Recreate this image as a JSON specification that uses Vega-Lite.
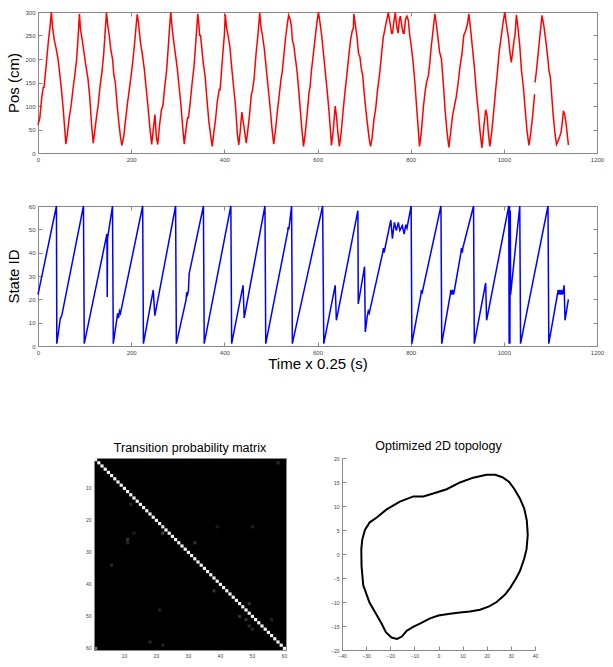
{
"$schema": "https://vega.github.io/schema/vega-lite/v6.json",
"padding": {"left": 5, "top": 8, "right": 5, "bottom": 5},
"background": "white",
"config": {
  "font": "Liberation Sans",
  "view": {"stroke": "#888", "strokeWidth": 1},
  "axis": {"labelFontSize": 6, "labelColor": "#444", "tickColor": "#888", "tickSize": -4, "labelPadding": 7, "domain": false, "grid": false, "titleFontWeight": "normal", "titleFontSize": 15, "titleColor": "black", "labelFlush": false, "labelOverlap": false},
  "title": {"fontSize": 12.5, "fontWeight": "normal", "offset": 4, "color": "black"}
},
"datasets": {
"pos": [
{"t":0,"p":60,"s":1},{"t":4,"p":75,"s":1},{"t":8,"p":118,"s":1},{"t":11,"p":139,"s":1},{"t":13,"p":140,"s":1},{"t":17,"p":180,"s":1},{"t":22,"p":235,"s":1},{"t":26,"p":270,"s":1},{"t":28.6,"p":300,"s":1},{"t":31,"p":270,"s":1},{"t":35,"p":240,"s":1},{"t":39,"p":222,"s":1},{"t":43,"p":200,"s":1},{"t":47,"p":165,"s":1},{"t":50,"p":138,"s":1},{"t":54,"p":95,"s":1},{"t":57.5,"p":50,"s":1},{"t":59.7,"p":19,"s":1},
{"t":63,"p":40,"s":1},{"t":67,"p":75,"s":1},{"t":71,"p":100,"s":1},{"t":75,"p":135,"s":1},{"t":79,"p":165,"s":1},{"t":83,"p":200,"s":1},{"t":86,"p":245,"s":1},{"t":89,"p":296,"s":1},{"t":91,"p":265,"s":1},{"t":95,"p":240,"s":1},{"t":99,"p":212,"s":1},{"t":103,"p":185,"s":1},{"t":107,"p":160,"s":1},{"t":111,"p":120,"s":1},{"t":115,"p":60,"s":1},{"t":118.6,"p":21,"s":1},
{"t":122,"p":48,"s":1},{"t":126,"p":80,"s":1},{"t":129,"p":100,"s":1},{"t":133,"p":140,"s":1},{"t":137,"p":170,"s":1},{"t":141,"p":210,"s":1},{"t":144,"p":255,"s":1},{"t":147,"p":299,"s":1},{"t":150,"p":270,"s":1},{"t":153,"p":250,"s":1},{"t":156,"p":222,"s":1},{"t":160,"p":200,"s":1},{"t":163,"p":165,"s":1},{"t":166,"p":150,"s":1},{"t":170,"p":100,"s":1},{"t":174,"p":60,"s":1},{"t":177,"p":35,"s":1},{"t":180,"p":16,"s":1},
{"t":184,"p":35,"s":1},{"t":188,"p":70,"s":1},{"t":192,"p":105,"s":1},{"t":196,"p":135,"s":1},{"t":200,"p":165,"s":1},{"t":204,"p":200,"s":1},{"t":208,"p":240,"s":1},{"t":211,"p":275,"s":1},{"t":213,"p":295,"s":1},{"t":216,"p":275,"s":1},{"t":220,"p":235,"s":1},{"t":224,"p":210,"s":1},{"t":228,"p":180,"s":1},{"t":232,"p":140,"s":1},{"t":236,"p":100,"s":1},{"t":240,"p":55,"s":1},{"t":244,"p":18,"s":1},{"t":247,"p":45,"s":1},{"t":251,"p":82,"s":1},{"t":254,"p":35,"s":1},{"t":257,"p":18,"s":1},
{"t":261,"p":60,"s":1},{"t":265,"p":92,"s":1},{"t":268,"p":100,"s":1},{"t":272,"p":140,"s":1},{"t":276,"p":175,"s":1},{"t":280,"p":230,"s":1},{"t":283,"p":275,"s":1},{"t":285,"p":300,"s":1},{"t":288,"p":265,"s":1},{"t":291,"p":240,"s":1},{"t":295,"p":210,"s":1},{"t":299,"p":180,"s":1},{"t":303,"p":140,"s":1},{"t":307,"p":100,"s":1},{"t":311,"p":50,"s":1},{"t":314,"p":19,"s":1},
{"t":318,"p":52,"s":1},{"t":321,"p":75,"s":1},{"t":323,"p":75,"s":1},{"t":327,"p":110,"s":1},{"t":331,"p":150,"s":1},{"t":335,"p":185,"s":1},{"t":339,"p":240,"s":1},{"t":343,"p":296,"s":1},{"t":345,"p":278,"s":1},{"t":347,"p":250,"s":1},{"t":349,"p":250,"s":1},{"t":352,"p":220,"s":1},{"t":355,"p":190,"s":1},{"t":359,"p":160,"s":1},{"t":363,"p":110,"s":1},{"t":367,"p":65,"s":1},{"t":371,"p":35,"s":1},{"t":374,"p":14,"s":1},
{"t":377,"p":40,"s":1},{"t":381,"p":70,"s":1},{"t":385,"p":110,"s":1},{"t":389,"p":135,"s":1},{"t":391,"p":135,"s":1},{"t":394,"p":175,"s":1},{"t":397,"p":215,"s":1},{"t":400,"p":250,"s":1},{"t":402,"p":295,"s":1},{"t":405,"p":265,"s":1},{"t":408,"p":250,"s":1},{"t":412,"p":225,"s":1},{"t":416,"p":180,"s":1},{"t":420,"p":140,"s":1},{"t":424,"p":100,"s":1},{"t":428,"p":40,"s":1},{"t":431,"p":17,"s":1},{"t":434,"p":45,"s":1},{"t":437.6,"p":87,"s":1},{"t":440,"p":70,"s":1},{"t":443,"p":50,"s":1},{"t":447,"p":21,"s":1},
{"t":450,"p":45,"s":1},{"t":454,"p":80,"s":1},{"t":458,"p":125,"s":1},{"t":460,"p":130,"s":1},{"t":464,"p":160,"s":1},{"t":468,"p":210,"s":1},{"t":472,"p":250,"s":1},{"t":476,"p":298,"s":1},{"t":479,"p":265,"s":1},{"t":482,"p":250,"s":1},{"t":486,"p":220,"s":1},{"t":490,"p":180,"s":1},{"t":494,"p":140,"s":1},{"t":498,"p":100,"s":1},{"t":502,"p":55,"s":1},{"t":506,"p":19,"s":1},
{"t":510,"p":50,"s":1},{"t":514,"p":90,"s":1},{"t":518,"p":125,"s":1},{"t":522,"p":160,"s":1},{"t":524,"p":170,"s":1},{"t":528,"p":210,"s":1},{"t":532,"p":250,"s":1},{"t":536,"p":280,"s":1},{"t":538,"p":293,"s":1},{"t":541,"p":285,"s":1},{"t":544,"p":270,"s":1},{"t":546,"p":240,"s":1},{"t":549,"p":230,"s":1},{"t":552,"p":205,"s":1},{"t":556,"p":175,"s":1},{"t":560,"p":130,"s":1},{"t":564,"p":80,"s":1},{"t":567,"p":45,"s":1},{"t":570,"p":14,"s":1},
{"t":574,"p":45,"s":1},{"t":578,"p":85,"s":1},{"t":582,"p":130,"s":1},{"t":584,"p":140,"s":1},{"t":587,"p":175,"s":1},{"t":591,"p":210,"s":1},{"t":595,"p":245,"s":1},{"t":599,"p":280,"s":1},{"t":602,"p":300,"s":1},{"t":605,"p":280,"s":1},{"t":609,"p":250,"s":1},{"t":613,"p":210,"s":1},{"t":617,"p":170,"s":1},{"t":621,"p":130,"s":1},{"t":625,"p":85,"s":1},{"t":628,"p":45,"s":1},{"t":630,"p":16,"s":1},{"t":634,"p":50,"s":1},{"t":638,"p":100,"s":1},{"t":641,"p":75,"s":1},{"t":644,"p":40,"s":1},{"t":647,"p":14,"s":1},
{"t":651,"p":45,"s":1},{"t":655,"p":90,"s":1},{"t":659,"p":130,"s":1},{"t":663,"p":165,"s":1},{"t":667,"p":205,"s":1},{"t":671,"p":240,"s":1},{"t":675,"p":262,"s":1},{"t":677,"p":265,"s":1},{"t":678,"p":296,"s":1},{"t":681,"p":275,"s":1},{"t":685,"p":245,"s":1},{"t":688,"p":212,"s":1},{"t":691,"p":205,"s":1},{"t":694,"p":180,"s":1},{"t":697,"p":165,"s":1},{"t":700,"p":130,"s":1},{"t":704,"p":90,"s":1},{"t":708,"p":55,"s":1},{"t":711,"p":30,"s":1},{"t":714,"p":14,"s":1},
{"t":717,"p":30,"s":1},{"t":721,"p":70,"s":1},{"t":725,"p":95,"s":1},{"t":729,"p":135,"s":1},{"t":733,"p":165,"s":1},{"t":737,"p":205,"s":1},{"t":741,"p":245,"s":1},{"t":745,"p":265,"s":1},{"t":749,"p":285,"s":1},{"t":752,"p":299,"s":1},{"t":756,"p":275,"s":1},{"t":759,"p":255,"s":1},{"t":761,"p":255,"s":1},{"t":764,"p":280,"s":1},{"t":767,"p":299,"s":1},{"t":770,"p":270,"s":1},{"t":773,"p":255,"s":1},{"t":776,"p":285,"s":1},{"t":778,"p":291,"s":1},{"t":781,"p":270,"s":1},{"t":784,"p":255,"s":1},{"t":786,"p":255,"s":1},{"t":789,"p":285,"s":1},{"t":792,"p":291,"s":1},{"t":795,"p":282,"s":1},{"t":798,"p":250,"s":1},{"t":801,"p":230,"s":1},{"t":805,"p":195,"s":1},{"t":809,"p":150,"s":1},{"t":813,"p":95,"s":1},{"t":816,"p":55,"s":1},{"t":819,"p":14,"s":1},
{"t":823,"p":45,"s":1},{"t":827,"p":95,"s":1},{"t":831,"p":130,"s":1},{"t":834,"p":150,"s":1},{"t":838,"p":165,"s":1},{"t":841,"p":190,"s":1},{"t":844,"p":225,"s":1},{"t":848,"p":260,"s":1},{"t":852,"p":296,"s":1},{"t":855,"p":275,"s":1},{"t":858,"p":250,"s":1},{"t":862,"p":215,"s":1},{"t":866,"p":200,"s":1},{"t":870,"p":150,"s":1},{"t":874,"p":90,"s":1},{"t":878,"p":45,"s":1},{"t":882,"p":12,"s":1},
{"t":886,"p":45,"s":1},{"t":890,"p":80,"s":1},{"t":894,"p":100,"s":1},{"t":898,"p":120,"s":1},{"t":902,"p":150,"s":1},{"t":906,"p":185,"s":1},{"t":910,"p":210,"s":1},{"t":914,"p":250,"s":1},{"t":918,"p":260,"s":1},{"t":922,"p":275,"s":1},{"t":925,"p":296,"s":1},{"t":929,"p":260,"s":1},{"t":933,"p":220,"s":1},{"t":937,"p":180,"s":1},{"t":941,"p":130,"s":1},{"t":945,"p":90,"s":1},{"t":949,"p":45,"s":1},{"t":953,"p":11,"s":1},{"t":957,"p":55,"s":1},{"t":961,"p":92,"s":1},{"t":964,"p":80,"s":1},{"t":967,"p":40,"s":1},{"t":970,"p":14,"s":1},
{"t":974,"p":45,"s":1},{"t":978,"p":85,"s":1},{"t":982,"p":130,"s":1},{"t":986,"p":170,"s":1},{"t":990,"p":215,"s":1},{"t":994,"p":245,"s":1},{"t":998,"p":275,"s":1},{"t":1002,"p":300,"s":1},{"t":1006,"p":270,"s":1},{"t":1010,"p":245,"s":1},{"t":1013,"p":215,"s":1},{"t":1016,"p":193,"s":1},{"t":1019,"p":215,"s":1},{"t":1022,"p":240,"s":1},{"t":1024,"p":250,"s":1},{"t":1027,"p":294,"s":1},{"t":1030,"p":270,"s":1},{"t":1034,"p":230,"s":1},{"t":1038,"p":175,"s":1},{"t":1042,"p":140,"s":1},{"t":1046,"p":90,"s":1},{"t":1050,"p":45,"s":1},{"t":1054,"p":16,"s":1},{"t":1058,"p":45,"s":1},{"t":1062,"p":80,"s":1},{"t":1066,"p":125,"s":1},
{"t":1067,"p":150,"s":2},{"t":1070,"p":175,"s":2},{"t":1074,"p":215,"s":2},{"t":1078,"p":255,"s":2},{"t":1082,"p":293,"s":2},{"t":1086,"p":270,"s":2},{"t":1090,"p":240,"s":2},{"t":1094,"p":205,"s":2},{"t":1097,"p":175,"s":2},{"t":1100,"p":160,"s":2},{"t":1103,"p":120,"s":2},{"t":1106,"p":80,"s":2},{"t":1110,"p":40,"s":2},{"t":1113,"p":18,"s":2},{"t":1116,"p":25,"s":2},{"t":1120,"p":35,"s":2},{"t":1123,"p":45,"s":2},{"t":1126,"p":70,"s":2},{"t":1128,"p":90,"s":2},{"t":1131,"p":80,"s":2},{"t":1134,"p":60,"s":2},{"t":1138.6,"p":17,"s":2}
],
"state": [
{"t":0,"v":22},{"t":39.6,"v":60},{"t":40.4,"v":1},{"t":44,"v":6},{"t":48,"v":12},{"t":50,"v":12.5},{"t":52,"v":14},{"t":97.6,"v":60},{"t":99.3,"v":1},{"t":148,"v":48},{"t":148.6,"v":21},{"t":149.3,"v":46},{"t":159.9,"v":60},{"t":161.6,"v":1},{"t":171,"v":14},{"t":173,"v":12},{"t":175,"v":15},{"t":177,"v":14},{"t":224.7,"v":60},{"t":226.3,"v":1},{"t":247.4,"v":24},{"t":250.8,"v":13},{"t":295.4,"v":60},{"t":297,"v":1},{"t":318,"v":20},{"t":319,"v":23},{"t":321,"v":22},{"t":323,"v":24},{"t":324.5,"v":31},{"t":355.1,"v":60},{"t":356.8,"v":1},{"t":414,"v":60},{"t":415.7,"v":1},{"t":440.2,"v":26},{"t":442.6,"v":12},{"t":487.2,"v":60},{"t":488.9,"v":1},{"t":536,"v":49},{"t":537,"v":51},{"t":538.5,"v":50},{"t":544.4,"v":60},{"t":546,"v":1},{"t":611,"v":60},{"t":613.5,"v":1},{"t":638,"v":26},{"t":640.5,"v":11},{"t":686.7,"v":58},{"t":687.5,"v":18},{"t":701,"v":34},{"t":702.6,"v":6},{"t":707,"v":13},{"t":709,"v":15},{"t":711,"v":14},{"t":740,"v":40},{"t":741.5,"v":42},{"t":743,"v":40},{"t":745,"v":42},{"t":757.4,"v":54},{"t":760.8,"v":46},{"t":765,"v":53},{"t":769.3,"v":49.5},{"t":773.5,"v":53},{"t":776.8,"v":49.5},{"t":782,"v":51.6},{"t":786,"v":48},{"t":789.5,"v":52},{"t":792,"v":50.5},{"t":801,"v":60},{"t":802.6,"v":1},{"t":822,"v":22},{"t":823,"v":24},{"t":825,"v":23},{"t":826,"v":24},{"t":865,"v":60},{"t":866.7,"v":1},{"t":885,"v":22},{"t":886,"v":24},{"t":888,"v":22},{"t":890,"v":24},{"t":892,"v":22},{"t":894,"v":24},{"t":908,"v":40},{"t":909,"v":42},{"t":911,"v":40},{"t":912,"v":42},{"t":935,"v":60},{"t":936.6,"v":1},{"t":961,"v":27},{"t":963,"v":11},{"t":1010.6,"v":60},{"t":1011.4,"v":1},{"t":1012.2,"v":60},{"t":1013,"v":1},{"t":1013.8,"v":58},{"t":1014.5,"v":22},{"t":1034.2,"v":60},{"t":1035.9,"v":1},{"t":1094.8,"v":60},{"t":1096.5,"v":1},{"t":1116.7,"v":24},{"t":1118,"v":22},{"t":1120,"v":24},{"t":1122,"v":22},{"t":1124,"v":24},{"t":1126,"v":22},{"t":1128,"v":24},{"t":1129.5,"v":26},{"t":1131.3,"v":11},{"t":1138.6,"v":20}
],
"tpm": [
{"c":1,"r":1,"v":0.95},{"c":2,"r":2,"v":0.95},{"c":3,"r":3,"v":0.95},{"c":4,"r":4,"v":0.95},{"c":5,"r":5,"v":0.95},{"c":6,"r":6,"v":0.95},{"c":7,"r":7,"v":0.95},{"c":8,"r":8,"v":0.95},{"c":9,"r":9,"v":0.95},{"c":10,"r":10,"v":0.95},{"c":11,"r":11,"v":0.95},{"c":12,"r":12,"v":0.95},{"c":13,"r":13,"v":0.95},{"c":14,"r":14,"v":0.95},{"c":15,"r":15,"v":0.95},{"c":16,"r":16,"v":0.95},{"c":17,"r":17,"v":0.95},{"c":18,"r":18,"v":0.95},{"c":19,"r":19,"v":0.95},{"c":20,"r":20,"v":0.95},{"c":21,"r":21,"v":0.95},{"c":22,"r":22,"v":0.9},{"c":23,"r":23,"v":0.95},{"c":24,"r":24,"v":0.95},{"c":25,"r":25,"v":0.95},{"c":26,"r":26,"v":0.95},{"c":27,"r":27,"v":0.95},{"c":28,"r":28,"v":0.95},{"c":29,"r":29,"v":0.95},{"c":30,"r":30,"v":0.95},{"c":31,"r":31,"v":0.95},{"c":32,"r":32,"v":0.95},{"c":33,"r":33,"v":0.95},{"c":34,"r":34,"v":0.95},{"c":35,"r":35,"v":0.95},{"c":36,"r":36,"v":0.95},{"c":37,"r":37,"v":0.95},{"c":38,"r":38,"v":0.95},{"c":39,"r":39,"v":0.95},{"c":40,"r":40,"v":0.95},{"c":41,"r":41,"v":0.95},{"c":42,"r":42,"v":0.95},{"c":43,"r":43,"v":0.95},{"c":44,"r":44,"v":0.95},{"c":45,"r":45,"v":0.95},{"c":46,"r":46,"v":0.95},{"c":47,"r":47,"v":0.95},{"c":48,"r":48,"v":0.95},{"c":49,"r":49,"v":0.95},{"c":50,"r":50,"v":0.95},{"c":51,"r":51,"v":0.95},{"c":52,"r":52,"v":0.95},{"c":53,"r":53,"v":0.95},{"c":54,"r":54,"v":0.95},{"c":55,"r":55,"v":0.95},{"c":56,"r":56,"v":0.95},{"c":57,"r":57,"v":0.95},{"c":58,"r":58,"v":0.95},{"c":59,"r":59,"v":0.95},{"c":60,"r":60,"v":0.95},
{"c":58,"r":2,"v":0.15},{"c":12,"r":15,"v":0.15},{"c":39,"r":22,"v":0.1},{"c":50,"r":22,"v":0.12},{"c":13,"r":24,"v":0.1},{"c":22,"r":24,"v":0.3},{"c":11,"r":26,"v":0.2},{"c":11,"r":27,"v":0.15},{"c":32,"r":27,"v":0.2},{"c":6,"r":34,"v":0.15},{"c":38,"r":42,"v":0.2},{"c":21,"r":48,"v":0.12},{"c":49,"r":46,"v":0.2},{"c":46,"r":50,"v":0.2},{"c":48,"r":51,"v":0.2},{"c":49,"r":53,"v":0.15},{"c":50,"r":54,"v":0.15},{"c":56,"r":51,"v":0.12},{"c":18,"r":58,"v":0.15},{"c":22,"r":59,"v":0.12},{"c":1,"r":60,"v":0.5}
],
"topo": [
{"o":1,"x":19.9,"y":16.5},{"o":2,"x":14.4,"y":15.9},{"o":3,"x":8.9,"y":14.9},{"o":4,"x":3.4,"y":13.5},{"o":5,"x":-2.2,"y":12.6},{"o":6,"x":-6.3,"y":12.0},{"o":7,"x":-10.4,"y":12.0},{"o":8,"x":-16,"y":10.9},{"o":9,"x":-21.5,"y":9.3},{"o":10,"x":-25.6,"y":7.6},{"o":11,"x":-28.5,"y":6.6},{"o":12,"x":-30.5,"y":5.0},{"o":13,"x":-31.6,"y":3.0},{"o":14,"x":-32,"y":1},{"o":15,"x":-31.9,"y":-2.5},{"o":16,"x":-31.2,"y":-6.5},{"o":17,"x":-28.6,"y":-10.1},{"o":18,"x":-25.5,"y":-12.8},{"o":19,"x":-23.5,"y":-14.6},{"o":20,"x":-21.8,"y":-16.3},{"o":21,"x":-19.5,"y":-17.4},{"o":22,"x":-17.2,"y":-17.7},{"o":23,"x":-15.2,"y":-17.2},{"o":24,"x":-13.2,"y":-16.0},{"o":25,"x":-10.5,"y":-15.2},{"o":26,"x":-7.7,"y":-14.5},{"o":27,"x":-3.5,"y":-13.4},{"o":28,"x":0,"y":-12.8},{"o":29,"x":4,"y":-12.5},{"o":30,"x":8.9,"y":-12.2},{"o":31,"x":13,"y":-12.0},{"o":32,"x":17.2,"y":-11.6},{"o":33,"x":21,"y":-10.9},{"o":34,"x":24.1,"y":-10.0},{"o":35,"x":27.5,"y":-8.5},{"o":36,"x":29.8,"y":-7.0},{"o":37,"x":32,"y":-5.2},{"o":38,"x":33.8,"y":-3.5},{"o":39,"x":35.5,"y":-1.0},{"o":40,"x":36.5,"y":1.0},{"o":41,"x":37.0,"y":4.0},{"o":42,"x":36.6,"y":7.0},{"o":43,"x":35.5,"y":9.5},{"o":44,"x":33.8,"y":11.5},{"o":45,"x":31.5,"y":13.5},{"o":46,"x":29.3,"y":15.0},{"o":47,"x":26.5,"y":16.0},{"o":48,"x":23.5,"y":16.5},{"o":49,"x":19.9,"y":16.5}
]
},
"spacing": 67,
"vconcat": [
 {"spacing": 39, "vconcat": [
  {"width": 559, "height": 141, "data": {"name": "pos"},
   "layer": [
    {"mark": {"type": "line", "color": "#ff0000", "strokeWidth": 1.5},
     "encoding": {
      "x": {"field": "t", "type": "quantitative", "scale": {"domain": [0, 1200], "nice": false}, "axis": {"values": [0,200,400,600,800,1000,1200], "format": "d", "title": null}},
      "y": {"field": "p", "type": "quantitative", "scale": {"domain": [0, 300], "nice": false}, "axis": {"values": [0,50,100,150,200,250,300], "title": "Pos (cm)", "minExtent": 14, "maxExtent": 14, "titlePadding": 3}},
      "detail": {"field": "s"}}},
    {"mark": {"type": "point", "opacity": 0},
     "encoding": {
      "x": {"field": "t", "type": "quantitative", "axis": {"orient": "top", "values": [0,200,400,600,800,1000,1200], "labels": false, "title": null}},
      "y": {"field": "p", "type": "quantitative", "axis": {"orient": "right", "values": [0,50,100,150,200,250,300], "labels": false, "title": null}}}}
   ],
   "resolve": {"axis": {"x": "independent", "y": "independent"}}},
  {"width": 559, "height": 140, "data": {"name": "state"},
   "layer": [
    {"mark": {"type": "line", "color": "#0000ff", "strokeWidth": 1.5},
     "encoding": {
      "x": {"field": "t", "type": "quantitative", "scale": {"domain": [0, 1200], "nice": false}, "axis": {"values": [0,200,400,600,800,1000,1200], "format": "d", "title": "Time x 0.25 (s)", "titlePadding": 1}},
      "y": {"field": "v", "type": "quantitative", "scale": {"domain": [0, 60], "nice": false}, "axis": {"values": [0,10,20,30,40,50,60], "title": "State ID", "minExtent": 14, "maxExtent": 14, "titlePadding": 3}}}},
    {"mark": {"type": "point", "opacity": 0},
     "encoding": {
      "x": {"field": "t", "type": "quantitative", "axis": {"orient": "top", "values": [0,200,400,600,800,1000,1200], "labels": false, "title": null}},
      "y": {"field": "v", "type": "quantitative", "axis": {"orient": "right", "values": [0,10,20,30,40,50,60], "labels": false, "title": null}}}}
   ],
   "resolve": {"axis": {"x": "independent", "y": "independent"}}}
 ]},
 {"spacing": 42, "hconcat": [
  {"width": 2, "height": 192, "data": {"values": [{}]}, "mark": {"type": "point", "opacity": 0}, "view": {"stroke": null}},
  {"width": 192, "height": 192, "data": {"name": "tpm"},
   "title": "Transition probability matrix",
   "view": {"fill": "black", "stroke": "#888"},
   "mark": {"type": "rect"},
   "encoding": {
    "x": {"field": "c", "type": "ordinal", "scale": {"domain": [1,2,3,4,5,6,7,8,9,10,11,12,13,14,15,16,17,18,19,20,21,22,23,24,25,26,27,28,29,30,31,32,33,34,35,36,37,38,39,40,41,42,43,44,45,46,47,48,49,50,51,52,53,54,55,56,57,58,59,60], "paddingInner": 0, "paddingOuter": 0}, "axis": {"values": [10,20,30,40,50,60], "labelAngle": 0, "title": null, "ticks": false, "labelPadding": 3, "labelFontSize": 5}},
    "y": {"field": "r", "type": "ordinal", "scale": {"domain": [1,2,3,4,5,6,7,8,9,10,11,12,13,14,15,16,17,18,19,20,21,22,23,24,25,26,27,28,29,30,31,32,33,34,35,36,37,38,39,40,41,42,43,44,45,46,47,48,49,50,51,52,53,54,55,56,57,58,59,60], "paddingInner": 0, "paddingOuter": 0}, "axis": {"values": [10,20,30,40,50,60], "title": null, "ticks": false, "labelPadding": 3, "labelFontSize": 5}},
    "color": {"field": "v", "type": "quantitative", "scale": {"domain": [0, 1], "range": ["#000000", "#ffffff"]}, "legend": null}}},
  {"width": 193, "height": 192, "data": {"name": "topo"},
   "title": "Optimized 2D topology",
   "view": {"stroke": null},
   "mark": {"type": "line", "color": "black", "strokeWidth": 2},
   "encoding": {
    "x": {"field": "x", "type": "quantitative", "scale": {"domain": [-40, 40], "nice": false}, "axis": {"values": [-40,-30,-20,-10,0,10,20,30,40], "title": null, "domain": true, "domainColor": "#888", "labelFontSize": 5}},
    "y": {"field": "y", "type": "quantitative", "scale": {"domain": [-20, 20], "nice": false}, "axis": {"values": [-20,-15,-10,-5,0,5,10,15,20], "title": null, "domain": true, "domainColor": "#888", "labelFontSize": 5}},
    "order": {"field": "o", "type": "quantitative"}}}
 ]}
]
}
